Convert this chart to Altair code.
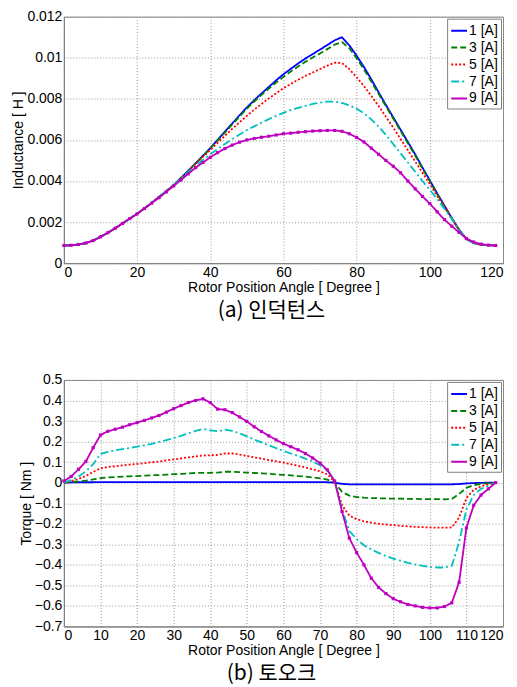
import altair as alt
import pandas as pd

angle = list(range(0, 120, 2))
series = ["1 [A]", "3 [A]", "5 [A]", "7 [A]", "9 [A]"]
colors = ["#0000FF", "#008000", "#FF0000", "#00BFBF", "#BF00BF"]
dashes = [[1, 0], [6, 3], [2, 2], [8, 3, 2, 3], [1, 0]]

# Inductance [H]
L1 = [0.00086, 0.00087, 0.00091, 0.00098, 0.00110, 0.00128, 0.00148, 0.00170, 0.00193, 0.00217,
      0.00240, 0.00267, 0.00294, 0.00322, 0.00351, 0.00380, 0.00415, 0.00450, 0.00486, 0.00523,
      0.00560, 0.00600, 0.00640, 0.00680, 0.00720, 0.00758, 0.00793, 0.00826, 0.00858, 0.00890,
      0.00920, 0.00946, 0.00972, 0.00996, 0.01018, 0.01040, 0.01062, 0.01085, 0.01100, 0.01060,
      0.01010, 0.00955, 0.00895, 0.00832, 0.00770, 0.00710, 0.00650, 0.00590, 0.00530, 0.00465,
      0.00403, 0.00340, 0.00280, 0.00220, 0.00163, 0.00118, 0.00098, 0.00090, 0.00087, 0.00086]
L3 = [0.00086, 0.00087, 0.00091, 0.00098, 0.00110, 0.00128, 0.00148, 0.00170, 0.00193, 0.00217,
      0.00240, 0.00267, 0.00294, 0.00322, 0.00351, 0.00380, 0.00415, 0.00450, 0.00486, 0.00522,
      0.00558, 0.00597, 0.00636, 0.00675, 0.00714, 0.00752, 0.00787, 0.00819, 0.00850, 0.00879,
      0.00907, 0.00933, 0.00957, 0.00980, 0.01001, 0.01021, 0.01042, 0.01064, 0.01076, 0.01046,
      0.00998, 0.00943, 0.00884, 0.00824, 0.00764, 0.00704, 0.00644, 0.00584, 0.00524, 0.00460,
      0.00398, 0.00336, 0.00276, 0.00218, 0.00162, 0.00118, 0.00098, 0.00090, 0.00087, 0.00086]
L5 = [0.00086, 0.00087, 0.00091, 0.00098, 0.00110, 0.00128, 0.00148, 0.00170, 0.00193, 0.00217,
      0.00240, 0.00267, 0.00294, 0.00322, 0.00351, 0.00380, 0.00414, 0.00448, 0.00483, 0.00517,
      0.00551, 0.00586, 0.00620, 0.00654, 0.00686, 0.00717, 0.00747, 0.00775, 0.00802, 0.00827,
      0.00852, 0.00873, 0.00893, 0.00911, 0.00928, 0.00945, 0.00962, 0.00976, 0.00974, 0.00945,
      0.00905, 0.00862, 0.00815, 0.00765, 0.00713, 0.00660, 0.00605, 0.00550, 0.00495, 0.00440,
      0.00385, 0.00328, 0.00272, 0.00215, 0.00160, 0.00118, 0.00098, 0.00090, 0.00087, 0.00086]
L7 = [0.00086, 0.00087, 0.00091, 0.00098, 0.00110, 0.00128, 0.00148, 0.00170, 0.00193, 0.00217,
      0.00240, 0.00267, 0.00294, 0.00322, 0.00351, 0.00380, 0.00412, 0.00444, 0.00474, 0.00502,
      0.00530, 0.00556, 0.00580, 0.00604, 0.00626, 0.00648, 0.00666, 0.00684, 0.00701, 0.00717,
      0.00732, 0.00745, 0.00756, 0.00766, 0.00775, 0.00782, 0.00786, 0.00787, 0.00780, 0.00768,
      0.00752, 0.00730, 0.00700, 0.00665, 0.00625, 0.00580, 0.00535, 0.00490, 0.00445, 0.00400,
      0.00358, 0.00312, 0.00265, 0.00215, 0.00160, 0.00118, 0.00098, 0.00090, 0.00087, 0.00086]
L9 = [0.00086, 0.00087, 0.00091, 0.00098, 0.00110, 0.00128, 0.00148, 0.00170, 0.00193, 0.00217,
      0.00240, 0.00266, 0.00292, 0.00319, 0.00347, 0.00376, 0.00405, 0.00435, 0.00465, 0.00490,
      0.00515, 0.00538, 0.00558, 0.00575, 0.00589, 0.00600, 0.00607, 0.00613, 0.00618, 0.00624,
      0.00630, 0.00633, 0.00637, 0.00640, 0.00643, 0.00645, 0.00646, 0.00646, 0.00642, 0.00630,
      0.00612, 0.00590, 0.00560, 0.00530, 0.00500, 0.00472, 0.00440, 0.00400, 0.00362, 0.00325,
      0.00290, 0.00250, 0.00212, 0.00180, 0.00150, 0.00120, 0.00103, 0.00093, 0.00088, 0.00086]

# Torque [Nm]
T1 = [0.0, 0.001, 0.002, 0.002, 0.002, 0.003, 0.003, 0.003, 0.003, 0.003,
      0.003, 0.003, 0.003, 0.003, 0.003, 0.003, 0.003, 0.003, 0.003, 0.003,
      0.003, 0.003, 0.003, 0.003, 0.003, 0.003, 0.003, 0.003, 0.003, 0.003,
      0.003, 0.003, 0.003, 0.003, 0.003, 0.003, 0.002, 0.0, -0.006, -0.008,
      -0.008, -0.008, -0.008, -0.008, -0.008, -0.008, -0.008, -0.008, -0.008, -0.008,
      -0.008, -0.008, -0.008, -0.008, -0.007, -0.004, -0.002, -0.001, 0.0, 0.0]
T3 = [0.0, 0.003, 0.006, 0.010, 0.016, 0.022, 0.025, 0.027, 0.029, 0.031,
      0.032, 0.034, 0.036, 0.037, 0.039, 0.041, 0.043, 0.045, 0.047, 0.048,
      0.048, 0.049, 0.053, 0.053, 0.051, 0.049, 0.047, 0.045, 0.043, 0.040,
      0.038, 0.035, 0.032, 0.029, 0.025, 0.021, 0.015, 0.002, -0.045, -0.063,
      -0.070, -0.073, -0.075, -0.076, -0.077, -0.078, -0.078, -0.079, -0.079, -0.080,
      -0.080, -0.080, -0.081, -0.080, -0.055, -0.025, -0.012, -0.006, -0.003, 0.0]
T5 = [0.0, 0.008, 0.018, 0.033, 0.052, 0.070, 0.076, 0.080, 0.084, 0.088,
      0.091, 0.095, 0.099, 0.103, 0.108, 0.113, 0.118, 0.123, 0.128, 0.132,
      0.133, 0.135, 0.142, 0.142, 0.137, 0.130, 0.123, 0.117, 0.110, 0.104,
      0.097, 0.090, 0.082, 0.074, 0.065, 0.055, 0.040, 0.005, -0.110, -0.160,
      -0.178, -0.188, -0.195, -0.200, -0.204, -0.207, -0.210, -0.213, -0.215, -0.217,
      -0.218, -0.219, -0.219, -0.218, -0.170, -0.075, -0.035, -0.018, -0.008, 0.0]
T7 = [0.0, 0.012, 0.030, 0.055, 0.090, 0.140, 0.150, 0.157, 0.163, 0.169,
      0.175, 0.182, 0.189, 0.198, 0.207, 0.217, 0.228, 0.240, 0.252, 0.262,
      0.255, 0.250, 0.258, 0.252, 0.240, 0.225, 0.210, 0.196, 0.182, 0.168,
      0.155, 0.142, 0.130, 0.117, 0.104, 0.085, 0.060, 0.008, -0.130, -0.235,
      -0.275, -0.305, -0.325, -0.342, -0.357, -0.370, -0.380, -0.390, -0.398, -0.405,
      -0.410, -0.413, -0.413, -0.405, -0.290, -0.130, -0.060, -0.030, -0.015, 0.0]
T9 = [0.008, 0.030, 0.065, 0.103, 0.170, 0.232, 0.250, 0.260, 0.270, 0.282,
      0.292, 0.303, 0.315, 0.327, 0.343, 0.360, 0.375, 0.390, 0.400, 0.408,
      0.390, 0.358, 0.355, 0.341, 0.320, 0.298, 0.272, 0.249, 0.228, 0.208,
      0.190, 0.175, 0.160, 0.142, 0.120, 0.095, 0.062, 0.008, -0.140, -0.270,
      -0.340, -0.400, -0.465, -0.510, -0.540, -0.565, -0.580, -0.593, -0.600, -0.607,
      -0.610, -0.610, -0.603, -0.585, -0.485, -0.220, -0.110, -0.060, -0.030, 0.0]

ind_ticks = [0, 0.002, 0.004, 0.006, 0.008, 0.010, 0.012]
tq_ticks = [0.5, 0.4, 0.3, 0.2, 0.1, 0, -0.1, -0.2, -0.3, -0.4, -0.5, -0.6, -0.7]
x_ticks_top = [0, 20, 40, 60, 80, 100, 120]
x_ticks_bot = [0, 10, 20, 30, 40, 50, 60, 70, 80, 90, 100, 110, 120]


def long(vals_list):
    rows = []
    for s, vals in zip(series, vals_list):
        for a, v in zip(angle, vals):
            rows.append({"angle": a, "value": v, "series": s})
    return pd.DataFrame(rows)


FONT = "Liberation Sans"


def panel(df, ydomain, yticks, ytitle, xticks, caption, yfmt):
    leg = alt.Legend(title=None, orient="top-right", offset=2, fillColor="white",
                     strokeColor="#808080", padding=3, labelFontSize=14, labelFont=FONT,
                     symbolType="stroke", symbolStrokeWidth=2, symbolSize=250,
                     rowPadding=1, labelOffset=1, labelColor="black")
    color = alt.Color("series:N", scale=alt.Scale(domain=series, range=colors), legend=leg)
    dash = alt.StrokeDash("series:N", scale=alt.Scale(domain=series, range=dashes), legend=leg)
    x = alt.X("angle:Q", scale=alt.Scale(domain=[0, 120], nice=False),
              axis=alt.Axis(values=xticks, labelOverlap=False,
                            title="Rotor Position Angle [ Degree ]"))
    y = alt.Y("value:Q", scale=alt.Scale(domain=ydomain, nice=False, zero=False),
              axis=alt.Axis(values=yticks, format=yfmt, labelOverlap=False, title=ytitle))
    lines = alt.Chart(df).mark_line(strokeWidth=1.8).encode(
        x=x, y=y, color=color, strokeDash=dash, order="angle:Q")
    pts = alt.Chart(df).transform_filter(alt.datum.series == "9 [A]").mark_point(
        shape="square", filled=True, size=10, opacity=1, color="#BF00BF").encode(
        x=x, y=y)
    return alt.layer(lines, pts).properties(
        width=440, height=247,
        title=alt.TitleParams(caption, orient="bottom", anchor="middle", fontSize=21,
                              font="Noto Sans CJK KR", fontWeight="normal", offset=6, dx=-12,
                              color="black"))


top = panel(long([L1, L3, L5, L7, L9]), [0, 0.012], ind_ticks, "Inductance [ H ]",
            x_ticks_top, "(a)  인덕턴스", ".3~f")
bot = panel(long([T1, T3, T5, T7, T9]), [-0.7, 0.5], tq_ticks, "Torque [ Nm ]",
            x_ticks_bot, "(b)  토오크", ".1~f")

chart = alt.vconcat(top, bot, spacing=50).resolve_scale(
    color="independent", strokeDash="independent").resolve_legend(
    color="independent", strokeDash="independent").properties(
    padding={"left": 3, "top": 0, "right": 5, "bottom": 5}).configure_axis(
    labelFont=FONT, titleFont=FONT, labelFontSize=14, titleFontSize=14,
    titleFontWeight="normal", labelColor="black", titleColor="black",
    gridColor="#9a9a9a", gridDash=[1, 2], gridOpacity=1, domainColor="#808080",
    ticks=False, labelPadding=2, titlePadding=1).configure_view(
    stroke="#808080", strokeWidth=1).configure_title(color="black")

chart.save("out.html", embed_options={"renderer": "svg", "actions": False})
